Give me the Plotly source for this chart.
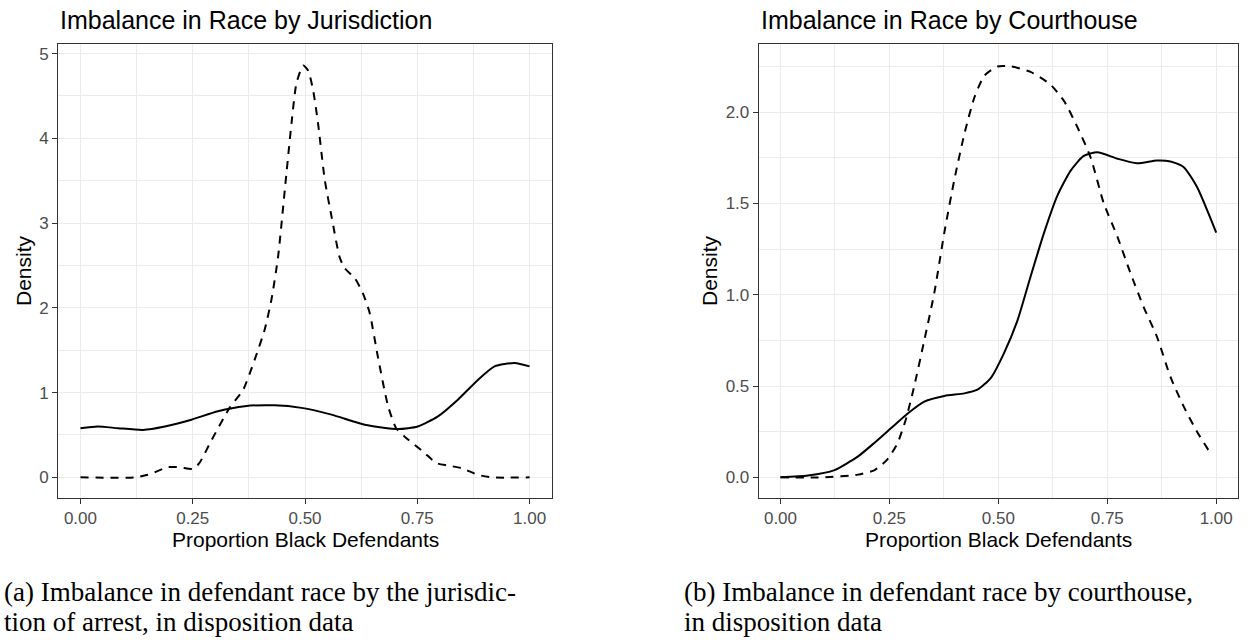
import plotly.graph_objects as go

W, H = 1248, 640

# ---------------- data ----------------
jur_dash_x = [0.0, 0.121, 0.15, 0.195, 0.221, 0.251, 0.265, 0.292, 0.332, 0.362, 0.388, 0.41, 0.425,
              0.44, 0.455, 0.47, 0.481, 0.496, 0.507, 0.518, 0.529, 0.544, 0.559, 0.577, 0.588, 0.611,
              0.629, 0.644, 0.662, 0.685, 0.703, 0.722, 0.766, 0.792, 0.818, 0.848, 0.885, 0.915, 1.0]
jur_dash_y = [0.0, 0.0, 0.03, 0.12, 0.12, 0.10, 0.17, 0.44, 0.82, 1.03, 1.39, 1.74, 2.09,
              2.60, 3.39, 4.18, 4.65, 4.86, 4.80, 4.57, 4.18, 3.51, 3.08, 2.60, 2.47, 2.35,
              2.17, 1.94, 1.43, 0.84, 0.58, 0.48, 0.29, 0.17, 0.14, 0.11, 0.03, 0.0, 0.0]

jur_solid_x = [0.0, 0.039, 0.084, 0.139, 0.188, 0.247, 0.306, 0.366, 0.432, 0.492, 0.559, 0.633,
               0.707, 0.751, 0.796, 0.841, 0.885, 0.922, 0.967, 1.0]
jur_solid_y = [0.58, 0.60, 0.58, 0.56, 0.60, 0.68, 0.78, 0.84, 0.85, 0.82, 0.74, 0.62,
               0.57, 0.60, 0.72, 0.92, 1.15, 1.31, 1.35, 1.31]

crt_dash_x = [0.0, 0.101, 0.178, 0.216, 0.246, 0.269, 0.288, 0.307, 0.33, 0.353, 0.376, 0.399, 0.422,
              0.445, 0.468, 0.498, 0.529, 0.574, 0.62, 0.651, 0.681, 0.712, 0.742, 0.773, 0.803,
              0.834, 0.864, 0.895, 0.925, 0.956, 0.99]
crt_dash_y = [0.0, 0.0, 0.015, 0.04, 0.10, 0.19, 0.32, 0.50, 0.75, 1.01, 1.34, 1.63, 1.88,
              2.08, 2.20, 2.25, 2.25, 2.22, 2.15, 2.06, 1.92, 1.75, 1.50, 1.32, 1.12,
              0.93, 0.77, 0.55, 0.39, 0.25, 0.12]

crt_solid_x = [0.0, 0.063, 0.124, 0.178, 0.216, 0.254, 0.292, 0.33, 0.376, 0.422, 0.452, 0.483,
               0.513, 0.544, 0.574, 0.605, 0.635, 0.666, 0.696, 0.727, 0.773, 0.818, 0.864,
               0.895, 0.925, 0.956, 1.0]
crt_solid_y = [0.0, 0.01, 0.04, 0.115, 0.19, 0.27, 0.35, 0.415, 0.446, 0.46, 0.48, 0.545,
               0.68, 0.86, 1.10, 1.34, 1.54, 1.68, 1.76, 1.78, 1.745, 1.72, 1.735,
               1.73, 1.70, 1.59, 1.34]

x_ticks = [0.0, 0.25, 0.5, 0.75, 1.0]
x_ticklabels = ["0.00", "0.25", "0.50", "0.75", "1.00"]
y1_ticks = [0, 1, 2, 3, 4, 5]
y2_ticks = [0.0, 0.5, 1.0, 1.5, 2.0]
y2_ticklabels = ["0.0", "0.5", "1.0", "1.5", "2.0"]

titles = ["Imbalance in Race by Jurisdiction", "Imbalance in Race by Courthouse"]
x_title = "Proportion Black Defendants"
y_title = "Density"
caption_a = ["(a) Imbalance in defendant race by the jurisdic-", "tion of arrest, in disposition data"]
caption_b = ["(b) Imbalance in defendant race by courthouse,", "in disposition data"]

# ---------------- figure ----------------
SANS = "Liberation Sans, Arial, Helvetica, sans-serif"
SERIF = "Liberation Serif, Times New Roman, serif"
DASH = "8px,7px"

fig = go.Figure()
line_solid = dict(color="black", width=2, shape="spline", smoothing=0.6)
line_dash = dict(color="black", width=2, shape="spline", smoothing=0.6, dash=DASH)

fig.add_trace(go.Scatter(x=jur_dash_x, y=jur_dash_y, mode="lines", line=line_dash, xaxis="x", yaxis="y"))
fig.add_trace(go.Scatter(x=jur_solid_x, y=jur_solid_y, mode="lines", line=line_solid, xaxis="x", yaxis="y"))
fig.add_trace(go.Scatter(x=crt_dash_x, y=crt_dash_y, mode="lines", line=line_dash, xaxis="x2", yaxis="y2"))
fig.add_trace(go.Scatter(x=crt_solid_x, y=crt_solid_y, mode="lines", line=line_solid, xaxis="x2", yaxis="y2"))


def px_x(p):
    return p / W


def px_y(p):
    return 1 - p / H


GRID = "#EBEBEB"
axis_common = dict(
    showline=True, mirror=True, linecolor="#333333", linewidth=1,
    ticks="outside", ticklen=5, tickwidth=1, tickcolor="#333333",
    tickfont=dict(family=SANS, size=17, color="#4D4D4D"),
    showgrid=True, gridcolor=GRID, gridwidth=1.1, zeroline=False,
)


def xaxis(domain, anchor):
    d = dict(axis_common)
    d.update(domain=domain, anchor=anchor, range=[-0.05, 1.05], tickmode="array",
             tickvals=x_ticks, ticktext=x_ticklabels,
             minor=dict(tickvals=[0.125, 0.375, 0.625, 0.875], showgrid=True,
                        gridcolor=GRID, gridwidth=0.6, ticks=""))
    return d


def yaxis(domain, anchor, rng, vals, texts, minor_vals):
    d = dict(axis_common)
    d.update(domain=domain, anchor=anchor, range=rng, tickmode="array",
             tickvals=vals, ticktext=texts,
             minor=dict(tickvals=minor_vals, showgrid=True, gridcolor=GRID,
                        gridwidth=0.6, ticks=""))
    return d


ydom = [px_y(498), px_y(44)]
fig.update_layout(
    width=W, height=H, margin=dict(l=0, r=0, t=0, b=0),
    paper_bgcolor="white", plot_bgcolor="white", showlegend=False,
    xaxis=xaxis([px_x(58), px_x(552)], "y"),
    yaxis=yaxis(ydom, "x", [-0.2435, 5.1135], y1_ticks, [str(v) for v in y1_ticks],
                [0.5, 1.5, 2.5, 3.5, 4.5]),
    xaxis2=xaxis([px_x(758.7), px_x(1238)], "y2"),
    yaxis2=yaxis(ydom, "x2", [-0.113, 2.373], y2_ticks, y2_ticklabels,
                 [0.25, 0.75, 1.25, 1.75, 2.25]),
)

ann = []
# titles
for t, xl in zip(titles, [58, 759]):
    ann.append(dict(text=t, x=px_x(xl), y=px_y(20), xref="paper", yref="paper",
                    xanchor="left", yanchor="middle", showarrow=False,
                    font=dict(family=SANS, size=25, color="black")))
# x axis titles
for xc in [(58 + 552) / 2, (758.7 + 1238) / 2]:
    ann.append(dict(text=x_title, x=px_x(xc), y=px_y(539), xref="paper", yref="paper",
                    xanchor="center", yanchor="middle", showarrow=False,
                    font=dict(family=SANS, size=21, color="black")))
# y axis titles
for xc in [23, 709]:
    ann.append(dict(text=y_title, x=px_x(xc), y=px_y(271), xref="paper", yref="paper",
                    xanchor="center", yanchor="middle", showarrow=False, textangle=-90,
                    font=dict(family=SANS, size=21, color="black")))
# captions
for lines, xl in [(caption_a, 2), (caption_b, 682)]:
    for i, ln in enumerate(lines):
        ann.append(dict(text=ln, x=px_x(xl), y=px_y(592 + 30 * i), xref="paper", yref="paper",
                        xanchor="left", yanchor="middle", showarrow=False,
                        font=dict(family=SERIF, size=27, color="black")))
fig.update_layout(annotations=ann)

fig.write_html("out.html")
